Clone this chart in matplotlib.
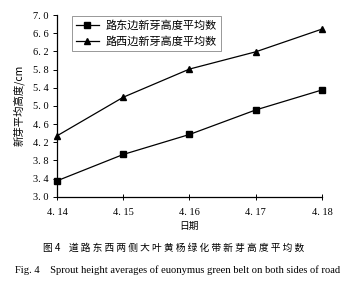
import matplotlib
matplotlib.use("Agg")
import matplotlib.pyplot as plt

dates = ["4. 14", "4. 15", "4. 16", "4. 17", "4. 18"]
east = [3.35, 3.93, 4.37, 4.91, 5.35]
west = [4.34, 5.19, 5.81, 6.19, 6.69]
yticks = [3.0, 3.4, 3.8, 4.2, 4.6, 5.0, 5.4, 5.8, 6.2, 6.6, 7.0]
ytick_labels = ["3. 0", "3. 4", "3. 8", "4. 2", "4. 6", "5. 0", "5. 4", "5. 8", "6. 2", "6. 6", "7. 0"]

cjk = ["Noto Sans CJK SC", "DejaVu Sans"]
serif = ["Liberation Serif", "DejaVu Serif"]

fig = plt.figure(figsize=(3.55, 2.81), dpi=100)
ax = fig.add_axes([0.1606, 0.300, 0.7464, 0.6466])
x = list(range(len(dates)))
ax.plot(x, east, color="black", lw=0.9, marker="s", ms=5, label="路东边新芽高度平均数", clip_on=False)
ax.plot(x, west, color="black", lw=0.9, marker="^", ms=4.5, label="路西边新芽高度平均数", clip_on=False)

ax.set_xlim(0, 4)
ax.set_ylim(3.0, 7.0)
ax.set_xticks(x)
ax.set_xticklabels(dates, family=serif, fontsize=7.5)
ax.set_yticks(yticks)
ax.set_yticklabels(ytick_labels, family=serif, fontsize=7.5)
for s in ["top", "right"]:
    ax.spines[s].set_visible(False)
for s in ["left", "bottom"]:
    ax.spines[s].set_linewidth(0.9)
ax.tick_params(axis="y", direction="out", length=3, width=0.7, pad=3)
ax.tick_params(axis="x", direction="inout", length=4, width=0.7, pad=6)

ax.set_ylabel("新芽平均高度/cm", family=cjk, fontsize=7.5, labelpad=6)
ax.set_xlabel("日期", family=cjk, fontsize=7, labelpad=3)

leg = ax.legend(loc="upper left", bbox_to_anchor=(0.035, 1.025), prop={"family": cjk, "size": 8},
                frameon=True, fancybox=False, edgecolor="#888888", framealpha=1,
                handlelength=2.0, borderpad=0.4, labelspacing=0.45, handletextpad=0.6)
leg.get_frame().set_linewidth(0.6)

fig.text(0.49, 1 - 248/281, "图 4    道 路 东 西 两 侧 大 叶 黄 杨 绿 化 带 新 芽 高 度 平 均 数",
         family=cjk, fontsize=7, ha="center", va="center")
fig.text(0.5, 1 - 270/281, "Fig. 4    Sprout height averages of euonymus green belt on both sides of road",
         family=serif, fontsize=7.6, ha="center", va="center")

fig.savefig("out.png", dpi=100)
